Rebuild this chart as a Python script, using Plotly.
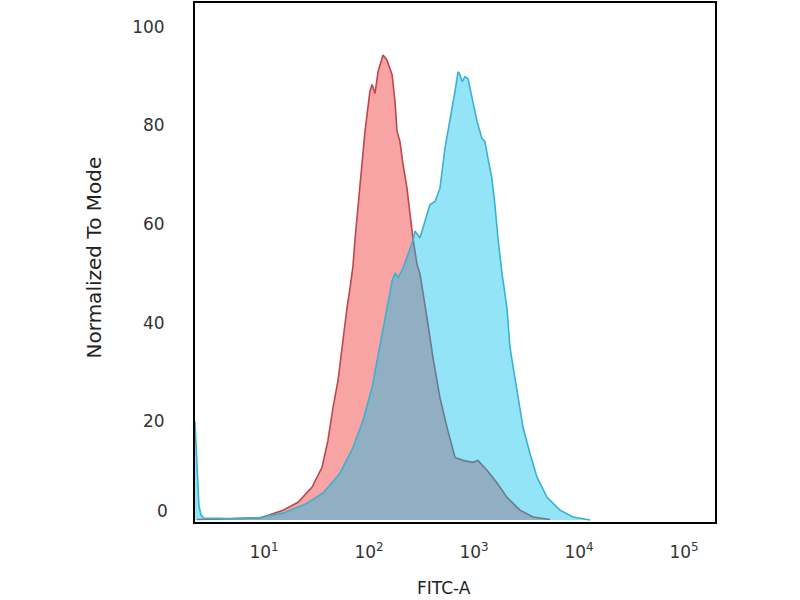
import plotly.graph_objects as go

# Control (red) histogram: FITC-A intensity vs normalized count
red_fitc = [2.30, 4.74, 9.16, 15.2, 21.1, 28.7, 35.7, 40.7, 45.4, 50.7, 55.3, 61.7,
            65.9, 70.4, 73.6, 82.1, 91.6, 102, 107, 114, 122, 136, 148, 166, 177,
            185, 197, 211, 230, 246, 262, 286, 306, 357, 407, 474, 553, 659, 786,
            977, 1090, 1330, 1660, 2060, 2740, 3650, 5300]
red_mode = [0.1, 0.2, 0.4, 2.0, 3.6, 6.7, 10.7, 16.2, 22.8, 28.3, 35.0, 43.0,
            47.0, 51.5, 57.0, 68.7, 78.8, 86.9, 88.3, 86.5, 90.9, 94.3, 93.3, 90.3, 84.8,
            78.8, 76.8, 72.1, 67.3, 62.0, 57.2, 51.9, 49.9, 41.0, 32.9, 24.8, 18.8, 12.7, 12.1,
            11.7, 12.1, 10.1, 7.5, 4.6, 2.0, 0.6, 0.1]

# Stained sample (blue) histogram
blue_fitc = [2.20, 2.30, 2.40, 2.51, 2.68, 4.74, 9.16, 15.2, 25.7, 36.5, 52.9, 70.4,
             87.7, 107, 119, 133, 148, 166, 177, 189, 211, 235, 262, 274, 306, 341,
             381, 425, 474, 529, 565, 617, 659, 704, 736, 769, 821, 877, 957, 1070,
             1190, 1270, 1360, 1480, 1580, 1690, 1850, 2060, 2200, 2570, 2930, 3410,
             3980, 4960, 6590, 8770, 12700]
blue_mode = [20.0, 10.0, 3.0, 1.0, 0.4, 0.3, 0.5, 1.4, 3.4, 5.5, 9.5, 14.7,
             20.2, 26.9, 32.3, 37.8, 43.0, 48.5, 50.1, 49.1, 51.1, 53.9, 56.6, 58.6, 57.2, 60.6,
             64.0, 64.6, 67.3, 75.4, 78.8, 82.8, 86.9, 90.9, 90.3, 88.9, 89.9, 89.5, 85.5, 80.8,
             77.4, 76.8, 73.3, 69.3, 64.0, 57.2, 49.9, 43.0, 35.0, 26.3, 18.8, 13.5,
             8.7, 4.6, 2.0, 0.6, 0.0]

x_ticks = [10, 100, 1000, 10000, 100000]
x_tick_text = ["10<sup>1</sup>", "10<sup>2</sup>", "10<sup>3</sup>", "10<sup>4</sup>", "10<sup>5</sup>"]
y_ticks = [20, 40, 60, 80, 100]

fig = go.Figure()

# Control histogram, opaque pink
fig.add_trace(go.Scatter(
    x=red_fitc, y=red_mode, mode='lines', fill='tozeroy',
    fillcolor='rgb(249,164,164)',
    line=dict(color='rgb(190,70,76)', width=1.6),
    showlegend=False
))

# Sample histogram, translucent cyan so the overlap turns grey-blue
fig.add_trace(go.Scatter(
    x=blue_fitc, y=blue_mode, mode='lines', fill='tozeroy',
    fillcolor='rgba(0,190,236,0.42)',
    line=dict(color='rgb(56,178,210)', width=1.6),
    showlegend=False
))

font = "DejaVu Sans"
fig.update_layout(
    width=800, height=600,
    plot_bgcolor='white', paper_bgcolor='white',
    margin=dict(l=195, r=85, t=1, b=78),
    xaxis=dict(
        type='log', range=[0.343, 5.295],
        tickvals=x_ticks, ticktext=x_tick_text,
        ticks='', ticklabelstandoff=14,
        tickfont=dict(family=font, size=17, color='#333'),
        showgrid=False, zeroline=False,
        showline=True, mirror=True, linecolor='black', linewidth=2,
    ),
    yaxis=dict(
        range=[-0.4, 104.85],
        tickvals=y_ticks,
        ticks='', ticklabelstandoff=25,
        tickfont=dict(family=font, size=17, color='#333'),
        showgrid=False, zeroline=False,
        showline=True, mirror=True, linecolor='black', linewidth=2,
    ),
    annotations=[
        # the zero label sits a little above the baseline, as in the source
        dict(text="0", xref='paper', yref='y', x=0, y=0, xanchor='right',
             yanchor='middle', xshift=-25, yshift=9, showarrow=False,
             font=dict(family=font, size=17, color='#333')),
        dict(text="Normalized To Mode", xref='paper', yref='paper',
             x=-0.194, y=0.51, textangle=-90, xanchor='center', yanchor='middle',
             showarrow=False, font=dict(family=font, size=20, color='#222')),
        dict(text="FITC-A", xref='paper', yref='paper',
             x=0.479, y=-0.128, xanchor='center', yanchor='middle',
             showarrow=False, font=dict(family=font, size=17, color='#222')),
    ],
)

# drop the default page margin so the 800x600 figure fills the window
fig.write_html("out.html", config={'displayModeBar': False},
               post_script="document.body.style.margin='0';")
